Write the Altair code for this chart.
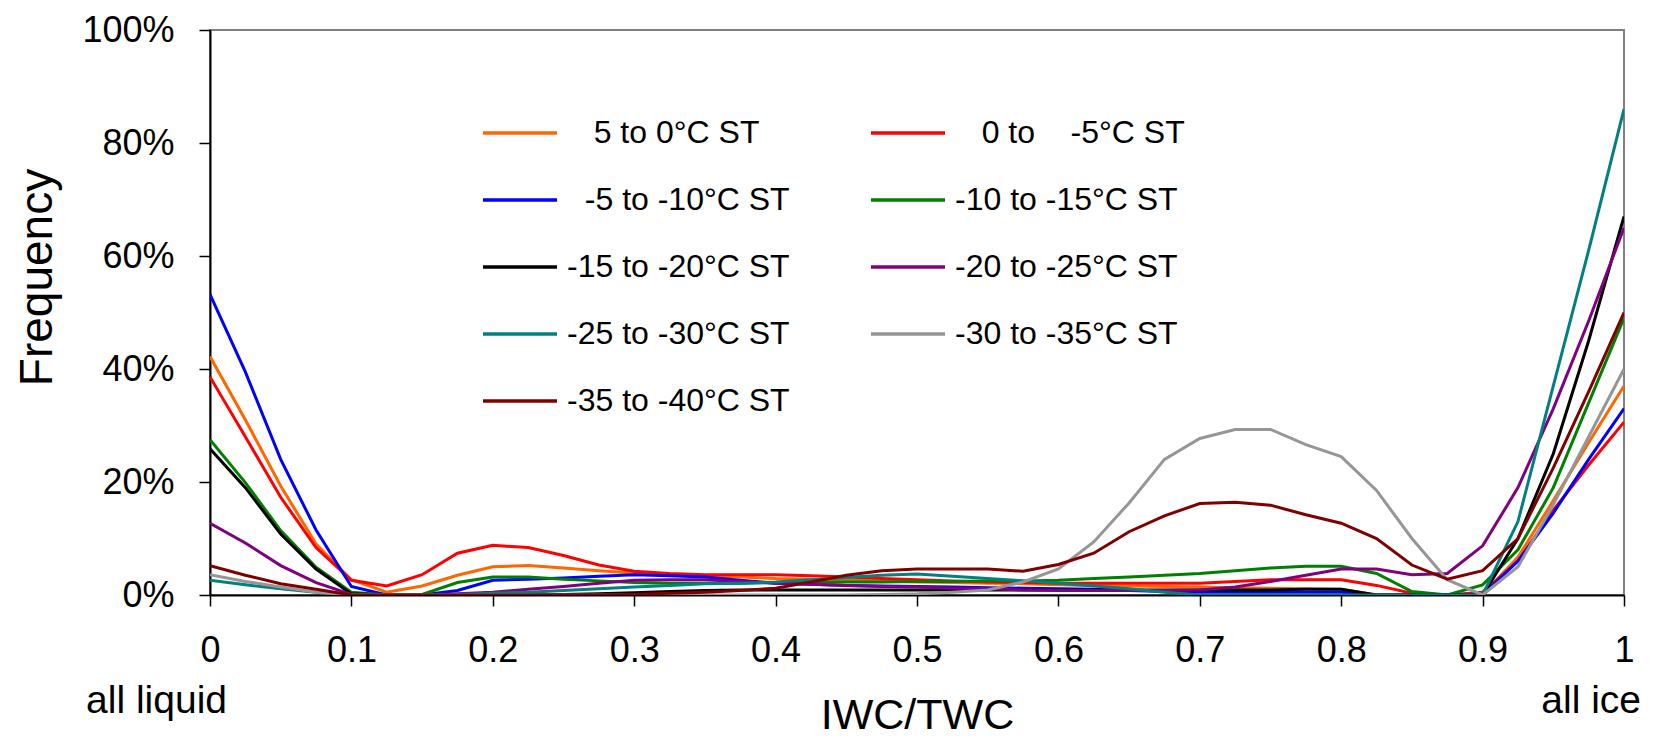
import altair as alt
import pandas as pd

# IWC/TWC bins
ratio = [0, 0.025, 0.05, 0.075, 0.1, 0.125, 0.15, 0.175, 0.2, 0.225,
         0.25, 0.275, 0.3, 0.325, 0.35, 0.375, 0.4, 0.425, 0.45, 0.475,
         0.5, 0.525, 0.55, 0.575, 0.6, 0.625, 0.65, 0.675, 0.7, 0.725,
         0.75, 0.775, 0.8, 0.825, 0.85, 0.875, 0.9, 0.925, 0.95, 0.975, 1.0]

NB = "\u00a0"
ZW = "\u200b"
series_names = [
    ZW + NB * 3 + "5 to 0°C ST",
    ZW + NB * 3 + "0 to" + NB * 4 + "-5°C ST",
    ZW + NB * 2 + "-5 to -10°C ST",
    "-10 to -15°C ST",
    "-15 to -20°C ST",
    "-20 to -25°C ST",
    "-25 to -30°C ST",
    "-30 to -35°C ST",
    "-35 to -40°C ST",
]
series_colors = ["#ff6600", "#ff0000", "#0000ff", "#008000", "#000000",
                 "#800080", "#008080", "#969696", "#800000"]

s_5_0 = [42.2, 31, 19.3, 9, 2.7, 0.5, 1.6, 3.5, 5, 5.2,
         4.8, 4.3, 3.9, 3.6, 3.4, 3.2, 2.9, 2.8, 2.6, 2.5,
         2.3, 2.2, 2.1, 2.0, 1.8, 1.7, 1.6, 1.5, 1.4, 1.3,
         1.2, 1.1, 1.0, 0, 0, 0, 0, 6.7, 16.7, 27, 37]
s_0_m5 = [38.6, 28, 17.3, 8.4, 2.6, 1.6, 3.6, 7.4, 8.8, 8.4,
          7, 5.3, 4.2, 3.8, 3.6, 3.6, 3.6, 3.4, 3.2, 2.9,
          2.7, 2.5, 2.3, 2.2, 2.1, 2.1, 2.1, 2.1, 2.1, 2.4,
          2.7, 2.7, 2.7, 1.7, 0.3, 0, 0.5, 6, 15, 23, 30.6]
s_m5_m10 = [53.2, 39.5, 24, 11.5, 1.5, 0, 0, 0.8, 2.6, 2.8,
            3.0, 3.3, 3.6, 3.4, 3.2, 2.6, 2.1, 1.9, 1.7, 1.6,
            1.5, 1.4, 1.3, 1.2, 1.1, 1.0, 0.8, 0.6, 0.5, 0.5,
            0.5, 0.5, 0.5, 0, 0, 0, 0, 6, 14.5, 24, 33]
s_m10_m15 = [27.5, 19.9, 11.4, 4.9, 0.5, 0, 0.1, 2.2, 3.2, 3.2,
             2.8, 2.5, 2.2, 2.1, 2.1, 2.1, 2.2, 2.2, 2.3, 2.3,
             2.4, 2.4, 2.5, 2.5, 2.6, 2.9, 3.2, 3.5, 3.8, 4.3,
             4.8, 5.1, 5.1, 3.8, 0.6, 0, 1.8, 8, 19, 34, 49]
s_m15_m20 = [25.9, 19, 10.8, 4.6, 0.2, 0, 0, 0, 0, 0.05,
             0.1, 0.2, 0.4, 0.6, 0.8, 0.9, 0.9, 0.9, 0.9, 0.9,
             0.9, 0.9, 0.9, 0.9, 0.9, 0.9, 0.9, 0.9, 0.9, 0.9,
             0.9, 1.0, 1.0, 0, 0, 0, 0, 10, 25, 45, 67]
s_m20_m25 = [12.7, 9.2, 5.2, 2.2, 0.1, 0, 0, 0.2, 0.5, 1,
             1.5, 2.1, 2.6, 2.7, 2.7, 2.4, 2.1, 1.9, 1.7, 1.5,
             1.4, 1.2, 1.1, 0.9, 0.8, 0.8, 0.8, 0.8, 0.9, 1.4,
             2.4, 3.5, 4.6, 4.6, 3.6, 3.8, 8.7, 19, 33, 48.5, 65]
s_m25_m30 = [2.6, 1.8, 1.1, 0.5, 0, 0, 0, 0.1, 0.3, 0.5,
             0.8, 1.1, 1.4, 1.7, 2.0, 2.1, 2.3, 2.7, 3.1, 3.5,
             3.7, 3.3, 2.9, 2.5, 2.1, 1.6, 1.1, 0.5, 0, 0,
             0, 0, 0, 0, 0, 0, 0, 13, 37, 61, 86]
s_m30_m35 = [3.6, 2.4, 1.4, 0.5, 0, 0, 0, 0, 0, 0,
             0, 0, 0, 0, 0, 0, 0, 0, 0, 0.1,
             0.2, 0.5, 0.9, 2.3, 4.6, 9.4, 16.3, 24, 27.7, 29.3,
             29.3, 26.6, 24.5, 18.5, 10, 2.7, 0, 5, 16, 28, 40]
s_m35_m40 = [5.2, 3.5, 2.0, 1.0, 0, 0, 0, 0, 0, 0,
             0, 0, 0.1, 0.3, 0.5, 0.8, 1.2, 2.3, 3.5, 4.3,
             4.6, 4.6, 4.6, 4.2, 5.4, 7.4, 11.2, 14, 16.2, 16.4,
             15.9, 14.2, 12.7, 10, 5.3, 2.8, 4.3, 10, 22.5, 36, 50]

series_values = [s_5_0, s_0_m5, s_m5_m10, s_m10_m15, s_m15_m20,
                 s_m20_m25, s_m25_m30, s_m30_m35, s_m35_m40]

x_ticks = [0, 0.1, 0.2, 0.3, 0.4, 0.5, 0.6, 0.7, 0.8, 0.9, 1.0]
y_ticks = [0, 20, 40, 60, 80, 100]
end_labels = ["all liquid", "all ice"]
end_pos = [0, 1]

rows = []
for k, (name, vals) in enumerate(zip(series_names, series_values)):
    for xv, yv in zip(ratio, vals):
        rows.append({"series": name, "order": k, "ratio": xv, "freq": yv})
df = pd.DataFrame(rows)
df_end = pd.DataFrame({"label": end_labels, "pos": end_pos})

FONT = "Liberation Sans"

x_scale = alt.Scale(domain=[0, 1], nice=False, zero=False)
y_scale = alt.Scale(domain=[0, 100], nice=False)

lines = alt.Chart(df).mark_line(strokeWidth=3, clip=True).encode(
    x=alt.X("ratio:Q", scale=x_scale,
            axis=alt.Axis(values=x_ticks,
                          labelExpr="datum.value == 0 ? '0' : datum.value == 1 ? '1' : format(datum.value, '.1f')",
                          labelFont=FONT, labelFontSize=36, labelColor="#000",
                          labelPadding=27, labelFlush=False, labelOverlap=False,
                          tickSize=11, tickColor="#000", tickWidth=1.5,
                          domainColor="#000", domainWidth=2, grid=False,
                          title="IWC/TWC", titleFont=FONT, titleFontSize=43,
                          titleFontWeight="normal", titleColor="#000",
                          titleY=133, titleBaseline="alphabetic")),
    y=alt.Y("freq:Q", scale=y_scale,
            axis=alt.Axis(values=y_ticks, labelExpr="datum.value + '%'",
                          labelFont=FONT, labelFontSize=36, labelColor="#000",
                          labelPadding=25, labelOverlap=False,
                          tickSize=11, tickColor="#000", tickWidth=1.5,
                          domainColor="#000", domainWidth=2, grid=False,
                          title="Frequency", titleFont=FONT, titleFontSize=46,
                          titleFontWeight="normal", titleColor="#000",
                          titleX=-159, titleY=247, titleAngle=270,
                          titleAlign="center", titleBaseline="alphabetic")),
    color=alt.Color("series:N",
                    scale=alt.Scale(domain=series_names, range=series_colors),
                    legend=alt.Legend(orient="none", legendX=271, legendY=64,
                                      columns=2, direction="horizontal",
                                      title=None, symbolType="stroke",
                                      symbolSize=5476, symbolStrokeWidth=3.5,
                                      labelFont=FONT, labelFontSize=32,
                                      labelColor="#000", labelOffset=8,
                                      labelLimit=500, rowPadding=12,
                                      columnPadding=74, padding=0)),
    detail="series:N",
    order=alt.Order("order:Q"),
)

ends = alt.Chart(df_end).mark_text(
    font=FONT, fontSize=39, color="#000", align="right",
    baseline="alphabetic", dx=17
).encode(
    x=alt.X("pos:Q", scale=x_scale),
    y=alt.value(683),
    text="label:N",
)

chart = alt.layer(lines, ends).properties(
    width=1414, height=565,
    autosize=alt.AutoSizeParams(type="none"),
    padding={"left": 202, "top": 22, "right": 18, "bottom": 143},
).configure_view(stroke="#808080", strokeWidth=2)

chart.save("out.html", embed_options={"renderer": "svg", "actions": False})
